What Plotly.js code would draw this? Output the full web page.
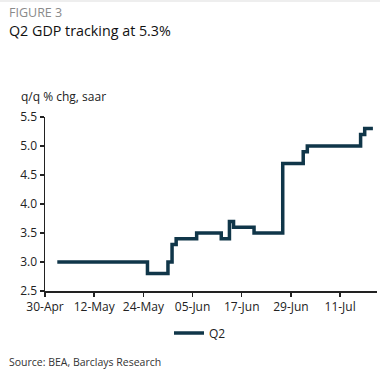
<!DOCTYPE html>
<html>
<head>
<meta charset="utf-8">
<script src="https://cdn.plot.ly/plotly-3.0.1.min.js"></script>
<style>html,body{margin:0;padding:0;background:#fff;}#chart{width:380px;height:372px;}</style>
</head>
<body>
<div id="chart"></div>
<script>
// Data (step series)
const dates = ["2021-05-03","2021-05-25","2021-05-30","2021-05-31","2021-06-01","2021-06-06","2021-06-12","2021-06-14","2021-06-15","2021-06-20","2021-06-27","2021-07-02","2021-07-03","2021-07-16","2021-07-17","2021-07-19"];
const q2 = [3.0,2.8,3.0,3.3,3.4,3.5,3.4,3.7,3.6,3.5,4.7,4.9,5.0,5.2,5.3,5.3];
const seriesName = "Q2";
const yTicks = [2.5,3.0,3.5,4.0,4.5,5.0,5.5];
const yTickText = ["2.5","3.0","3.5","4.0","4.5","5.0","5.5"];

const W = 380, H = 372;
const L = 45, R = 3, T = 117, B = 81;
const pw = W - L - R, ph = H - T - B;
const px = x => (x - L) / pw;
const py = y => (H - B - y) / ph;
const FONT = "Open Sans, DejaVu Sans, sans-serif";

const trace = {
  x: dates, y: q2, name: seriesName, type: "scatter", mode: "lines",
  line: {shape: "hv", color: "#103649", width: 3.5},
  hoverinfo: "skip"
};

const layout = {
  width: W, height: H,
  margin: {l: L, r: R, t: T, b: B, pad: 0},
  paper_bgcolor: "#fff", plot_bgcolor: "#fff",
  font: {family: FONT, size: 12, color: "#222"},
  showlegend: true,
  legend: {orientation: "h", x: px(169), y: py(333), xanchor: "left", yanchor: "middle",
           font: {size: 12, color: "#222"}, bgcolor: "rgba(0,0,0,0)"},
  xaxis: {
    type: "date", range: ["2021-04-30", "2021-07-20"],
    tick0: "2021-04-30", dtick: 12 * 86400000, tickformat: "%d-%b",
    showgrid: false, zeroline: false, showline: true, linecolor: "#222", linewidth: 1.5,
    ticks: "outside", ticklen: 4, tickcolor: "#222", tickwidth: 1.5,
    tickfont: {size: 12, color: "#222"}
  },
  yaxis: {
    range: [2.5, 5.5], tickvals: yTicks, ticktext: yTickText,
    showgrid: false, zeroline: false, showline: true, linecolor: "#222", linewidth: 1.5,
    ticks: "outside", ticklen: 4, tickcolor: "#222", tickwidth: 1.5,
    tickfont: {size: 12, color: "#222"}
  },
  shapes: [
    {type: "line", xref: "paper", yref: "paper", x0: px(0), x1: px(380), y0: py(1), y1: py(1),
     line: {color: "#ddd", width: 1}}
  ],
  annotations: [
    {text: "FIGURE 3", xref: "paper", yref: "paper", x: px(7), y: py(12), xanchor: "left", yanchor: "middle",
     showarrow: false, font: {size: 12.5, color: "#8a8a8a"}},
    {text: "Q2 GDP tracking at 5.3%", xref: "paper", yref: "paper", x: px(7), y: py(30), xanchor: "left", yanchor: "middle",
     showarrow: false, font: {size: 14.3, color: "#111"}},
    {text: "q/q % chg, saar", xref: "paper", yref: "paper", x: px(19), y: py(97), xanchor: "left", yanchor: "middle",
     showarrow: false, font: {size: 12, color: "#222"}},
    {text: "Source: BEA, Barclays Research", xref: "paper", yref: "paper", x: px(7), y: py(362), xanchor: "left", yanchor: "middle",
     showarrow: false, font: {size: 10.5, color: "#333"}}
  ]
};

Plotly.newPlot("chart", [trace], layout, {staticPlot: true, displayModeBar: false});
</script>
</body>
</html>
